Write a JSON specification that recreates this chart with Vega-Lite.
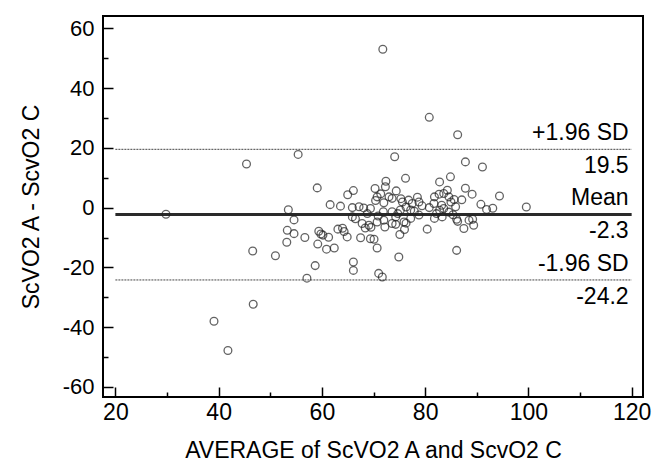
{
  "$schema": "https://vega.github.io/schema/vega-lite/v6.json",
  "width": 540,
  "height": 381,
  "autosize": {"type": "none"},
  "padding": {"left": 103, "top": 16, "right": 18, "bottom": 67},
  "background": "white",
  "config": {
    "view": {"stroke": "black", "strokeWidth": 2},
    "font": "Liberation Sans"
  },
  "datasets": {
    "points": [
      {"avg": 29.8, "diff": -2.2}, {"avg": 71.8, "diff": 53.0}, {"avg": 80.8, "diff": 30.2}, {"avg": 86.3, "diff": 24.4},
      {"avg": 55.4, "diff": 17.8}, {"avg": 45.4, "diff": 14.6}, {"avg": 74.1, "diff": 17.0}, {"avg": 87.8, "diff": 15.3},
      {"avg": 91.1, "diff": 13.6}, {"avg": 84.9, "diff": 10.3}, {"avg": 76.2, "diff": 9.8}, {"avg": 82.8, "diff": 8.6},
      {"avg": 72.4, "diff": 8.8}, {"avg": 59.1, "diff": 6.6}, {"avg": 87.8, "diff": 6.5}, {"avg": 89.1, "diff": 4.5},
      {"avg": 94.4, "diff": 3.9}, {"avg": 99.6, "diff": 0.2}, {"avg": 90.8, "diff": 1.1}, {"avg": 91.9, "diff": -0.6},
      {"avg": 93.1, "diff": -0.2}, {"avg": 39.1, "diff": -38.0}, {"avg": 41.8, "diff": -47.8}, {"avg": 46.7, "diff": -32.3},
      {"avg": 46.6, "diff": -14.5}, {"avg": 51.0, "diff": -16.1}, {"avg": 57.1, "diff": -23.6}, {"avg": 58.7, "diff": -19.4},
      {"avg": 56.7, "diff": -10.0}, {"avg": 53.3, "diff": -7.6}, {"avg": 54.6, "diff": -8.7}, {"avg": 53.2, "diff": -11.6},
      {"avg": 53.5, "diff": -0.7}, {"avg": 54.6, "diff": -4.1}, {"avg": 59.4, "diff": -7.9}, {"avg": 59.8, "diff": -8.8},
      {"avg": 60.2, "diff": -9.2}, {"avg": 59.2, "diff": -12.2}, {"avg": 60.9, "diff": -13.9}, {"avg": 61.3, "diff": -9.9},
      {"avg": 62.4, "diff": -13.5}, {"avg": 61.6, "diff": 1.0}, {"avg": 63.6, "diff": 0.5}, {"avg": 64.0, "diff": -6.9},
      {"avg": 64.3, "diff": -8.0}, {"avg": 64.9, "diff": -9.8}, {"avg": 65.0, "diff": 4.3}, {"avg": 66.1, "diff": 5.7},
      {"avg": 70.3, "diff": 6.4}, {"avg": 72.3, "diff": 7.0}, {"avg": 74.4, "diff": 5.6}, {"avg": 70.7, "diff": 3.6},
      {"avg": 70.4, "diff": 2.4}, {"avg": 72.0, "diff": 1.6}, {"avg": 73.6, "diff": 3.1}, {"avg": 75.6, "diff": 1.9},
      {"avg": 76.8, "diff": 2.5}, {"avg": 77.5, "diff": 1.4}, {"avg": 78.5, "diff": 3.5}, {"avg": 78.8, "diff": 1.9},
      {"avg": 65.9, "diff": 0.0}, {"avg": 67.2, "diff": 0.3}, {"avg": 68.1, "diff": -0.1}, {"avg": 69.4, "diff": -0.3},
      {"avg": 71.9, "diff": -1.4}, {"avg": 73.6, "diff": -1.4}, {"avg": 75.2, "diff": -0.8}, {"avg": 77.2, "diff": -0.8},
      {"avg": 65.9, "diff": -3.1}, {"avg": 66.5, "diff": -3.7}, {"avg": 67.8, "diff": -5.3}, {"avg": 69.1, "diff": -5.9},
      {"avg": 70.7, "diff": -4.8}, {"avg": 72.0, "diff": -4.2}, {"avg": 73.6, "diff": -5.3}, {"avg": 74.3, "diff": -3.1},
      {"avg": 75.9, "diff": -4.8}, {"avg": 77.2, "diff": -3.6}, {"avg": 78.8, "diff": -2.5}, {"avg": 67.5, "diff": -10.1},
      {"avg": 69.4, "diff": -10.4}, {"avg": 70.1, "diff": -10.6}, {"avg": 70.7, "diff": -13.5}, {"avg": 66.1, "diff": -18.2},
      {"avg": 66.1, "diff": -21.0}, {"avg": 71.0, "diff": -22.0}, {"avg": 71.7, "diff": -23.2}, {"avg": 74.9, "diff": -16.5},
      {"avg": 75.1, "diff": -9.0}, {"avg": 76.0, "diff": -7.3}, {"avg": 80.4, "diff": -7.2}, {"avg": 69.5, "diff": -6.6},
      {"avg": 76.3, "diff": -5.2}, {"avg": 74.3, "diff": -5.6}, {"avg": 68.4, "diff": -6.8}, {"avg": 72.2, "diff": -6.5},
      {"avg": 80.8, "diff": 0.0}, {"avg": 81.7, "diff": 1.4}, {"avg": 81.8, "diff": 3.6}, {"avg": 81.8, "diff": -3.6},
      {"avg": 82.2, "diff": -2.0}, {"avg": 82.8, "diff": -0.9}, {"avg": 83.2, "diff": 0.8}, {"avg": 83.3, "diff": -3.1},
      {"avg": 83.6, "diff": -0.3}, {"avg": 82.7, "diff": 4.5}, {"avg": 83.6, "diff": 4.7}, {"avg": 84.6, "diff": 3.6},
      {"avg": 85.0, "diff": 1.9}, {"avg": 85.6, "diff": 2.7}, {"avg": 85.9, "diff": 0.3}, {"avg": 86.1, "diff": -3.9},
      {"avg": 86.3, "diff": -4.6}, {"avg": 86.1, "diff": -14.3}, {"avg": 87.5, "diff": -7.0}, {"avg": 88.5, "diff": -4.2},
      {"avg": 89.2, "diff": -3.9}, {"avg": 89.4, "diff": -5.9}, {"avg": 84.3, "diff": 5.8}, {"avg": 84.6, "diff": -1.5},
      {"avg": 79.4, "diff": 0.6}, {"avg": 73.0, "diff": 3.6}, {"avg": 75.3, "diff": 3.0}, {"avg": 76.3, "diff": 0.2},
      {"avg": 68.8, "diff": -2.0}, {"avg": 70.9, "diff": -2.8}, {"avg": 74.7, "diff": -2.0}, {"avg": 77.9, "diff": -1.2},
      {"avg": 87.1, "diff": 2.6}, {"avg": 85.4, "diff": -2.4}, {"avg": 63.1, "diff": -7.2}, {"avg": 71.4, "diff": 4.6}
    ],
    "lines": [
      {"value": 19.5, "above": "+1.96 SD", "below": "19.5", "kind": "sd"},
      {"value": -2.3, "above": "Mean", "below": "-2.3", "kind": "mean"},
      {"value": -24.2, "above": "-1.96 SD", "below": "-24.2", "kind": "sd"}
    ]
  },
  "resolve": {"axis": {"x": "independent", "y": "independent"}},
  "layer": [
    {
      "data": {"name": "lines"},
      "transform": [{"filter": "datum.kind === 'sd'"}],
      "mark": {"type": "rule", "stroke": "#444", "strokeWidth": 1, "strokeDash": [2, 1]},
      "encoding": {
        "x": {"datum": 20, "type": "quantitative", "scale": {"domain": [17.6, 122.2], "nice": false, "zero": false},
          "axis": {"orient": "bottom", "values": [30, 50, 70, 90, 110], "labels": false, "domain": false, "title": null, "grid": false, "tickSize": -5, "tickColor": "black", "tickWidth": 1.5}},
        "x2": {"datum": 120},
        "y": {"field": "value", "type": "quantitative", "scale": {"domain": [-63.35, 64.1], "nice": false, "zero": false},
          "axis": {"orient": "left", "values": [-50, -30, -10, 10, 30, 50], "labels": false, "domain": false, "title": null, "grid": false, "tickSize": -5, "tickColor": "black", "tickWidth": 1.5}}
      }
    },
    {
      "data": {"name": "lines"},
      "transform": [{"filter": "datum.kind === 'mean'"}],
      "mark": {"type": "rule", "stroke": "#2a2a2a", "strokeWidth": 3},
      "encoding": {
        "x": {"datum": 20, "type": "quantitative", "axis": null},
        "x2": {"datum": 120},
        "y": {"field": "value", "type": "quantitative", "axis": null}
      }
    },
    {
      "data": {"name": "points"},
      "mark": {"type": "point", "shape": "circle", "filled": false, "stroke": "#222", "strokeWidth": 1.3, "size": 60},
      "encoding": {
        "x": {"field": "avg", "type": "quantitative",
          "axis": {"orient": "bottom", "values": [20, 40, 60, 80, 100, 120], "domain": false, "grid": false, "tickSize": -10, "tickColor": "black", "tickWidth": 1.5,
            "labelExpr": "toString(datum.value)",
            "labelFontSize": 23, "labelColor": "black", "labelPadding": 14, "labelFont": "Liberation Sans",
            "title": "AVERAGE of ScVO2 A and ScvO2 C", "titleFontSize": 23, "titleFontWeight": "normal", "titleColor": "black", "titlePadding": 15, "titleFont": "Liberation Sans"}},
        "y": {"field": "diff", "type": "quantitative",
          "axis": {"orient": "left", "values": [-60, -40, -20, 0, 20, 40, 60], "domain": false, "grid": false, "tickSize": -10, "tickColor": "black", "tickWidth": 1.5,
            "labelExpr": "toString(datum.value)",
            "labelFontSize": 22, "labelColor": "black", "labelPadding": 19, "labelFont": "Liberation Sans",
            "title": "ScVO2 A - ScvO2 C", "titleFontSize": 23, "titleFontWeight": "normal", "titleColor": "black", "titlePadding": 19, "titleFont": "Liberation Sans"}}
      }
    },
    {
      "data": {"name": "lines"},
      "mark": {"type": "text", "align": "right", "baseline": "alphabetic", "dx": -3, "dy": -9, "fontSize": 23, "font": "Liberation Sans", "color": "black"},
      "encoding": {
        "x": {"datum": 120, "type": "quantitative", "axis": null},
        "y": {"field": "value", "type": "quantitative", "axis": null},
        "text": {"field": "above"}
      }
    },
    {
      "data": {"name": "lines"},
      "mark": {"type": "text", "align": "right", "baseline": "alphabetic", "dx": -3, "dy": 24, "fontSize": 23, "font": "Liberation Sans", "color": "black"},
      "encoding": {
        "x": {"datum": 120, "type": "quantitative", "axis": null},
        "y": {"field": "value", "type": "quantitative", "axis": null},
        "text": {"field": "below"}
      }
    }
  ]
}
